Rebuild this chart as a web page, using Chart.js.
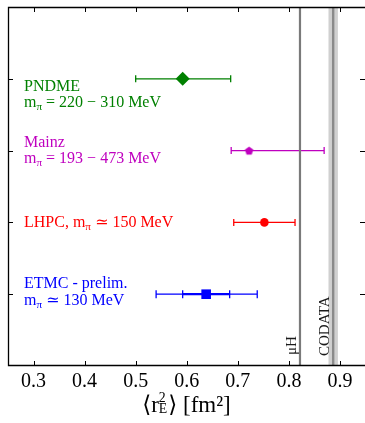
<!DOCTYPE html>
<html>
<head>
<meta charset="utf-8">
<script src="https://cdn.jsdelivr.net/npm/chart.js@4/dist/chart.umd.min.js"></script>
<style>
  html, body { margin: 0; padding: 0; background: #fff; }
  canvas { display: block; }
</style>
</head>
<body>
<canvas id="c" width="365" height="423" style="width:365px;height:423px"></canvas>
<script>
// Lattice results for the proton charge radius squared
const groups      = ['ETMC', 'LHPC', 'Mainz', 'PNDME'];
const rowPos      = [1, 2, 3, 4];
const central     = [0.638, 0.752, 0.722, 0.592];
const totalLow    = [0.540, 0.692, 0.687, 0.500];
const totalHigh   = [0.738, 0.812, 0.869, 0.686];
const statLow     = [0.592, null, null, null];
const statHigh    = [0.684, null, null, null];
const colors      = ['#0000ff', '#ff0000', '#bf00bf', '#008000'];
const markers     = ['rect', 'circle', 'pentagon', 'rectRot'];
const markerSize  = [6.8, 4.3, 4.4, 7];

// Legend-like text next to each result (first line baseline given in row units)
const labelLines = [
  ['ETMC - prelim.', 'm_π ≃ 130 MeV'],
  ['LHPC, m_π ≃ 150 MeV'],
  ['Mainz', 'm_π = 193 − 473 MeV'],
  ['PNDME', 'm_π = 220 − 310 MeV']
];
const labelRow = [1.08, 1.934, 3.056, 3.833];

// Experimental reference values
const muH = 0.8217;
const codata = 0.8867;
const codataErr = 0.0092;

const xTicks = [0.3, 0.4, 0.5, 0.6, 0.7, 0.8, 0.9];
const xMin = 0.25, xMax = 0.949;
const yMin = 0, yMax = 5;

const SERIF = '"Liberation Serif", "DejaVu Serif", serif';

function pentagonCanvas(r, color) {
  const s = Math.ceil(r * 2 + 2);
  const cv = document.createElement('canvas');
  cv.width = s; cv.height = s;
  const g = cv.getContext('2d');
  g.fillStyle = color;
  g.beginPath();
  for (let i = 0; i < 5; i++) {
    const a = -Math.PI / 2 + i * 2 * Math.PI / 5;
    const px = s / 2 + r * Math.cos(a), py = s / 2 + r * Math.sin(a) + 0.4;
    if (i === 0) g.moveTo(px, py); else g.lineTo(px, py);
  }
  g.closePath();
  g.fill();
  return cv;
}

// draws text with "_x" turned into a lowered, smaller glyph
function drawRich(ctx, str, x, y, size) {
  const parts = [];
  let buf = '';
  for (let i = 0; i < str.length; i++) {
    if (str[i] === '_' && i + 1 < str.length) {
      if (buf) parts.push({ t: buf, sub: false });
      buf = '';
      parts.push({ t: str[i + 1], sub: true });
      i++;
    } else buf += str[i];
  }
  if (buf) parts.push({ t: buf, sub: false });
  let cx = x;
  for (const p of parts) {
    const fs = p.sub ? size * 0.7 : size;
    ctx.font = fs + 'px ' + SERIF;
    ctx.fillText(p.t, cx, y + (p.sub ? size * 0.2 : 0));
    cx += ctx.measureText(p.t).width;
  }
}

const decorations = {
  id: 'decorations',
  beforeDatasetsDraw(chart) {
    const ctx = chart.ctx;
    const xs = chart.scales.x, ys = chart.scales.y;
    const a = chart.chartArea;
    ctx.save();
    ctx.beginPath();
    ctx.rect(a.left, a.top, a.right - a.left, a.bottom - a.top);
    ctx.clip();
    // error bars
    for (let i = 0; i < groups.length; i++) {
      const y = ys.getPixelForValue(rowPos[i]);
      const x0 = xs.getPixelForValue(totalLow[i]);
      const x1 = xs.getPixelForValue(totalHigh[i]);
      ctx.strokeStyle = colors[i];
      ctx.lineWidth = 1.3;
      ctx.beginPath();
      ctx.moveTo(x0, y); ctx.lineTo(x1, y);
      const cap = i === 0 ? 4 : 3.5;
      ctx.moveTo(x0, y - cap); ctx.lineTo(x0, y + cap);
      ctx.moveTo(x1, y - cap); ctx.lineTo(x1, y + cap);
      ctx.stroke();
      if (statLow[i] !== null) {
        const s0 = xs.getPixelForValue(statLow[i]);
        const s1 = xs.getPixelForValue(statHigh[i]);
        ctx.lineWidth = 2.2;
        ctx.beginPath();
        ctx.moveTo(s0, y); ctx.lineTo(s1, y);
        ctx.stroke();
        ctx.lineWidth = 1.3;
        ctx.beginPath();
        ctx.moveTo(s0, y - cap); ctx.lineTo(s0, y + cap);
        ctx.moveTo(s1, y - cap); ctx.lineTo(s1, y + cap);
        ctx.stroke();
      }
    }
    // CODATA band
    const cb0 = xs.getPixelForValue(codata - codataErr);
    const cb1 = xs.getPixelForValue(codata + codataErr);
    ctx.fillStyle = '#d0d0d0';
    ctx.fillRect(cb0, a.top, cb1 - cb0, a.bottom - a.top);
    ctx.strokeStyle = '#8a8a8a';
    ctx.lineWidth = 2.4;
    ctx.beginPath();
    const cx = xs.getPixelForValue(codata);
    ctx.moveTo(cx, a.top); ctx.lineTo(cx, a.bottom);
    ctx.stroke();
    // muonic hydrogen line
    const mx = xs.getPixelForValue(muH);
    ctx.strokeStyle = '#7a7a7a';
    ctx.lineWidth = 2.2;
    ctx.beginPath();
    ctx.moveTo(mx, a.top); ctx.lineTo(mx, a.bottom);
    ctx.stroke();
    ctx.restore();
  },
  afterDraw(chart) {
    const ctx = chart.ctx;
    const xs = chart.scales.x, ys = chart.scales.y;
    const a = chart.chartArea;
    ctx.save();
    // frame (the right edge sits just past the canvas)
    ctx.strokeStyle = '#000';
    ctx.lineWidth = 1.3;
    ctx.beginPath();
    ctx.moveTo(a.right + 1, a.top + 0.5);
    ctx.lineTo(a.left + 0.5, a.top + 0.5);
    ctx.lineTo(a.left + 0.5, a.bottom - 0.5);
    ctx.lineTo(a.right + 1, a.bottom - 0.5);
    ctx.stroke();
    // inward tick marks
    ctx.lineWidth = 1;
    ctx.beginPath();
    for (const v of xTicks) {
      const x = Math.round(xs.getPixelForValue(v)) + 0.5;
      ctx.moveTo(x, a.top); ctx.lineTo(x, a.top + 5);
      ctx.moveTo(x, a.bottom); ctx.lineTo(x, a.bottom - 5);
    }
    for (const v of rowPos) {
      const y = Math.round(ys.getPixelForValue(v)) + 0.5;
      ctx.moveTo(a.left, y); ctx.lineTo(a.left + 5, y);
      ctx.moveTo(a.right, y); ctx.lineTo(a.right - 5, y);
    }
    ctx.stroke();
    // result labels
    ctx.textAlign = 'left';
    ctx.textBaseline = 'alphabetic';
    for (let i = 0; i < groups.length; i++) {
      ctx.fillStyle = colors[i];
      const y0 = ys.getPixelForValue(labelRow[i]);
      labelLines[i].forEach((ln, k) => drawRich(ctx, ln, a.left + 16, y0 + k * 16.5, 16));
    }
    // vertical reference labels
    ctx.fillStyle = '#1a1a1a';
    ctx.font = '15px ' + SERIF;
    ctx.save();
    ctx.translate(xs.getPixelForValue(muH) - 4, a.bottom - 11);
    ctx.rotate(-Math.PI / 2);
    ctx.fillText('μH', 0, 0);
    ctx.restore();
    ctx.save();
    ctx.translate(xs.getPixelForValue(codata - codataErr) + 1, a.bottom - 10);
    ctx.rotate(-Math.PI / 2);
    ctx.fillText('CODATA', 0, 0);
    ctx.restore();
    // axis title: <r_E^2> [fm^2]
    ctx.fillStyle = '#000';
    const fs = 23;
    const big = fs + 'px ' + SERIF, small = (fs * 0.6) + 'px ' + SERIF;
    ctx.font = big;
    const wL = ctx.measureText('⟨r').width;
    const wR = ctx.measureText('⟩ [fm²]').width;
    ctx.font = small;
    const wS = Math.max(ctx.measureText('2').width, ctx.measureText('E').width) + 1;
    const total = wL + wS + wR;
    const base = 412;
    let tx = (a.left + 365) / 2 - total / 2;
    ctx.font = big;
    ctx.fillText('⟨r', tx, base);
    tx += wL;
    ctx.font = small;
    ctx.fillText('2', tx, base - 10);
    ctx.fillText('E', tx, base + 1);
    tx += wS;
    ctx.font = big;
    ctx.fillText('⟩ [fm²]', tx, base);
    ctx.restore();
  }
};

const datasets = groups.map((g, i) => ({
  label: g,
  data: [{ x: central[i], y: rowPos[i] }],
  pointStyle: markers[i] === 'pentagon' ? pentagonCanvas(markerSize[i], colors[i]) : markers[i],
  pointRadius: markerSize[i],
  backgroundColor: colors[i],
  borderColor: colors[i],
  borderWidth: 0,
  showLine: false
}));

new Chart(document.getElementById('c'), {
  type: 'scatter',
  data: { datasets },
  options: {
    responsive: false,
    animation: false,
    devicePixelRatio: 1,
    layout: { autoPadding: false, padding: { left: 8, top: 7, right: -1, bottom: 0 } },
    plugins: { legend: { display: false }, tooltip: { enabled: false } },
    scales: {
      x: {
        type: 'linear', min: xMin, max: xMax,
        grid: { display: false, drawTicks: false },
        border: { display: false },
        afterBuildTicks: s => { s.ticks = xTicks.map(v => ({ value: v })); },
        afterFit: s => { s.height = 57; s.paddingLeft = 0; s.paddingRight = 0; },
        ticks: {
          font: { family: SERIF, size: 20 }, color: '#000', padding: 4,
          maxRotation: 0, autoSkip: false,
          callback: v => Number(v).toFixed(1)
        }
      },
      y: {
        type: 'linear', min: yMin, max: yMax, display: false
      }
    }
  },
  plugins: [decorations]
});
</script>
</body>
</html>
